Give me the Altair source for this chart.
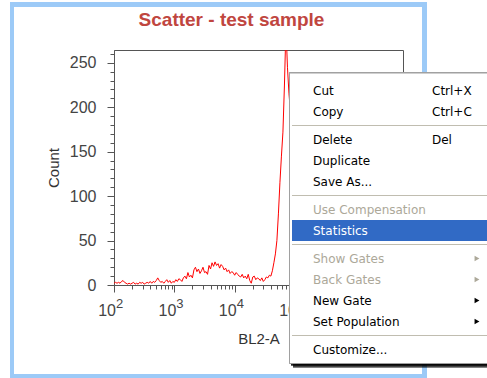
import altair as alt
import pandas as pd

# BL2-A histogram: bins evenly spaced in log10 channel units
bin_start = 2.0
bin_step = 0.025
counts = [
    2, 3, 2, 3, 2, 4, 5, 3, 2, 1,
    2, 1, 2, 3, 1, 2, 1, 3, 2, 3,
    1, 2, 3, 2, 4, 2, 4, 3, 5, 8,
    5, 3, 4, 2, 4, 6, 3, 5, 2, 4,
    3, 6, 4, 7, 6, 4, 8, 10, 7, 14,
    9, 11, 8, 17, 20, 15, 18, 13, 16, 20,
    14, 15, 12, 22, 18, 25, 21, 26, 22, 24,
    19, 23, 21, 17, 19, 15, 17, 13, 15, 14,
    11, 14, 12, 10, 9, 12, 8, 10, 7, 12,
    5, 2, 9, 10, 6, 8, 7, 5, 8, 4,
    6, 9, 8, 11, 10, 16, 25, 35, 50, 80,
    115, 145, 172, 225, 290, 245, 215, 195, 160, 150,
    120, 100, 75, 55, 40, 28, 18, 12, 8, 5,
    3, 2, 1, 1, 0, 0, 0, 0, 0, 0,
]

x_max = 10 ** 6.79
x_major = [100, 1000, 10000, 100000, 1000000]
x_multipliers = [1, 2, 3, 4, 5, 6, 7, 8, 9]
# decade labels left of the context menu (10^6 sits under it)
label_decades = [100, 1000, 10000, 100000]
label_exponents = ["2", "3", "4", "5"]
y_max = 264.4
y_ticks = [0, 10, 20, 30, 40, 50, 60, 70, 80, 90, 100, 110, 120, 130,
           140, 150, 160, 170, 180, 190, 200, 210, 220, 230, 240, 250, 260]

# Context menu entries ("-" is a separator)
menu_entries = ["Cut", "Copy", "-", "Delete", "Duplicate", "Save As...", "-",
                "Use Compensation", "Statistics", "-", "Show Gates", "Back Gates",
                "New Gate", "Set Population", "-", "Customize..."]
menu_shortcuts = {"Cut": "Ctrl+X", "Copy": "Ctrl+C", "Delete": "Del"}
menu_disabled = ["Use Compensation", "Show Gates", "Back Gates"]
menu_submenus = ["Show Gates", "Back Gates", "New Gate", "Set Population"]
menu_active = "Statistics"

AXIS_FONT = "Liberation Sans"
MENU_FONT = "DejaVu Sans"

hist = pd.DataFrame({
    "bl2": [10 ** (bin_start + i * bin_step) for i in range(len(counts))],
    "count": counts,
})
x_ticks = [m * d for d in x_major for m in x_multipliers if m * d <= x_max]
decades = pd.DataFrame({"bl2": label_decades, "exp": label_exponents})

# menu layout in row units: item = 3 units, separator = 1 unit
item_rows, sep_rows = [], []
pos = 1.0
for entry in menu_entries:
    if entry == "-":
        sep_rows.append({"pos": pos + 0.5})
        pos += 1
    else:
        if entry == menu_active:
            fg = "#ffffff"
        elif entry in menu_disabled:
            fg = "#aca899"
        else:
            fg = "#000000"
        item_rows.append({
            "label": entry, "pos": pos + 1.5, "top": pos, "bottom": pos + 3,
            "key": menu_shortcuts.get(entry, ""), "fg": fg,
            "sub": entry in menu_submenus, "active": entry == menu_active,
        })
        pos += 3
menu_units = pos + 0.5
items = pd.DataFrame(item_rows)
seps = pd.DataFrame(sep_rows)

x_scale = alt.Scale(type="log", domain=[100, x_max], nice=False)
y_scale = alt.Scale(domain=[0, y_max], nice=False, zero=True)
menu_y = alt.Scale(domain=[0, menu_units], range=[23, 23 + menu_units * 7], nice=False, zero=False)

x_axis = alt.Axis(
    values=x_ticks, labels=False, grid=False,
    tickSize={"condition": {"test": "indexof([100,1000,10000,100000,1000000], datum.value) >= 0", "value": 7}, "value": 4},
    domainColor="#555555", tickColor="#555555",
    title="BL2-A", titleFont=AXIS_FONT, titleFontSize=15, titleFontWeight="normal",
    titleColor="#333333", titleY=58, titleBaseline="alphabetic",
)
y_axis = alt.Axis(
    values=y_ticks, grid=False, labelOverlap=False, labelFlush=False,
    tickSize={"condition": {"test": "datum.value % 50 === 0", "value": 7}, "value": 4},
    labelExpr="datum.value % 50 === 0 ? datum.label : ''",
    labelFont=AXIS_FONT, labelFontSize=16, labelColor="#444444", labelPadding=11,
    domainColor="#555555", tickColor="#555555",
    title="Count", titleFont=AXIS_FONT, titleFontSize=15, titleFontWeight="normal",
    titleColor="#333333", titleAngle=270, titleX=-56, titleY=117.5,
    titleAlign="center", titleBaseline="alphabetic",
)

# window frame around the plot
frame = alt.Chart(hist).mark_rect(fill=None, stroke="#9ccaf7", strokeWidth=4).encode(
    x=alt.value(-102), x2=alt.value(310.5), y=alt.value(-45.5), y2=alt.value(326)
)

line = alt.Chart(hist).mark_line(color="#ff0000", strokeWidth=1, clip=True).encode(
    x=alt.X("bl2:Q", scale=x_scale, axis=x_axis),
    y=alt.Y("count:Q", scale=y_scale, axis=y_axis),
)

base_lbl = alt.Chart(decades).mark_text(
    align="right", baseline="alphabetic", dx=2, font=AXIS_FONT, fontSize=16, color="#444444"
).encode(x=alt.X("bl2:Q", scale=x_scale), y=alt.value(266), text=alt.value("10"))
exp_lbl = alt.Chart(decades).mark_text(
    align="left", baseline="alphabetic", dx=2, font=AXIS_FONT, fontSize=13, color="#444444"
).encode(x=alt.X("bl2:Q", scale=x_scale), y=alt.value(258), text="exp:N")

# context menu
shadow_outer = alt.Chart(items).mark_rect(fill="#000000", opacity=0.10).encode(
    x=alt.value(179), x2=alt.value(384), y=alt.value(27), y2=alt.value(317.5)
)
shadow_inner = alt.Chart(items).mark_rect(fill="#000000", opacity=0.14).encode(
    x=alt.value(177), x2=alt.value(382), y=alt.value(25), y2=alt.value(315.5)
)
menu_body = alt.Chart(items).mark_rect(fill="#ffffff", stroke="#a0a0a0", strokeWidth=1).encode(
    x=alt.value(175.5), x2=alt.value(380), y=alt.value(23), y2=alt.value(23 + menu_units * 7)
)
highlight = alt.Chart(items).transform_filter("datum.active").mark_rect(fill="#316ac5").encode(
    x=alt.value(178), x2=alt.value(378),
    y=alt.Y("top:Q", scale=menu_y, axis=None), y2="bottom:Q",
)
separators = alt.Chart(seps).mark_rule(color="#c0bdb0", strokeWidth=1).encode(
    x=alt.value(178), x2=alt.value(378), y=alt.Y("pos:Q", scale=menu_y, axis=None)
)
labels = alt.Chart(items).mark_text(
    align="left", baseline="middle", font=MENU_FONT, fontSize=12
).encode(
    x=alt.value(199), y=alt.Y("pos:Q", scale=menu_y, axis=None),
    text="label:N", color=alt.Color("fg:N", scale=None),
)
keys = alt.Chart(items).mark_text(
    align="left", baseline="middle", font=MENU_FONT, fontSize=12
).encode(
    x=alt.value(318), y=alt.Y("pos:Q", scale=menu_y, axis=None),
    text="key:N", color=alt.Color("fg:N", scale=None),
)
arrows = alt.Chart(items).transform_filter("datum.sub").mark_point(
    shape="triangle-right", filled=True, size=32, opacity=1
).encode(
    x=alt.value(363), y=alt.Y("pos:Q", scale=menu_y, axis=None),
    color=alt.Color("fg:N", scale=None),
)

chart = alt.layer(
    frame, line, base_lbl, exp_lbl,
    shadow_outer, shadow_inner, menu_body, highlight, separators, labels, keys, arrows,
).resolve_scale(y="independent").properties(
    width=289, height=235,
    padding={"left": 114, "top": 50, "right": 84, "bottom": 93},
    autosize="none",
    background="#ffffff",
    title=alt.TitleParams(
        "Scatter - test sample", font=AXIS_FONT, fontSize=19, fontWeight="bold",
        color="#c0463f", anchor="middle", frame="group", dx=-27, offset=-42,
        baseline="alphabetic",
    ),
).configure_view(stroke="#555555", strokeWidth=1)

chart.save("out.html", embed_options={"renderer": "svg", "actions": False})
